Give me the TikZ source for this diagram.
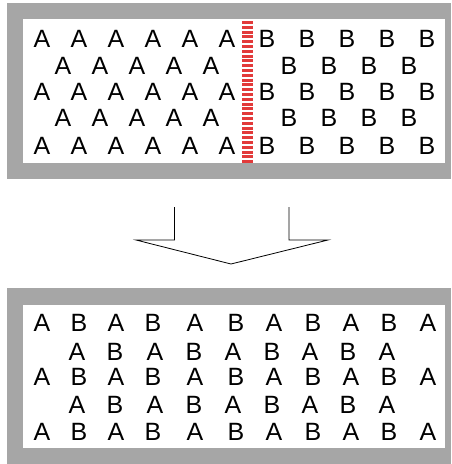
\documentclass[tikz,border=0pt]{standalone}
\usepackage{fontspec}
\setmainfont{Liberation Sans}
\definecolor{frame}{HTML}{A6A6A6}
\definecolor{stripe}{HTML}{E23A3A}
\begin{document}
\begin{tikzpicture}[x=1pt,y=-1pt,
  letter/.style={inner sep=0pt,font=\fontsize{25}{25}\selectfont},
  arrowline/.style={draw=black,line width=0.8pt,line join=miter}]
\useasboundingbox (0,0) rectangle (451,464);
% top box
\fill[frame] (7,3) rectangle (451,179);
\fill[white] (23,19) rectangle (445,163);
% stripe barrier
\draw[stripe,line width=11pt,dash pattern=on 3pt off 1.8pt] (247.5,21) -- (247.5,163);
% top letters
\foreach \y [count=\r] in {39,92,146}{
  \foreach \x [count=\c] in {42,79,116,153,190,227}
    \node[letter] (ta\r-\c) at (\x,\y) {A};
  \foreach \x [count=\c] in {267,307,347,387,427}
    \node[letter] (tb\r-\c) at (\x,\y) {B};
}
\foreach \y [count=\r] in {66,118}{
  \foreach \x [count=\c] in {63,100,137,174,211}
    \node[letter] (sa\r-\c) at (\x,\y) {A};
  \foreach \x [count=\c] in {289,329,369,409}
    \node[letter] (sb\r-\c) at (\x,\y) {B};
}
% arrow
\coordinate (p1) at (174.5,207);
\coordinate (p2) at (174.5,240);
\coordinate (p3) at (136,240);
\coordinate (tip) at (231,264);
\coordinate (p5) at (328,240);
\coordinate (p6) at (289,240);
\coordinate (p7) at (289,207);
\draw[arrowline] (p1) -- (p2) -- (p3) -- (tip) -- (p5) -- (p6) -- (p7);
% bottom box
\fill[frame] (7,288) rectangle (451,464);
\fill[white] (23,305) rectangle (445,448);
\foreach \y [count=\r] in {323,377,432}{
  \foreach \x/\t [count=\c] in {42/A,79/B,116/A,153/B,195/A,236/B,274/A,313/B,351/A,389/B,428/A}
    \node[letter] (ba\r-\c) at (\x,\y) {\t};
}
\foreach \y [count=\r] in {352,405}{
  \foreach \x/\t [count=\c] in {77/A,115/B,155/A,194/B,233/A,272/B,310/A,348/B,387/A}
    \node[letter] (bb\r-\c) at (\x,\y) {\t};
}
\end{tikzpicture}
\end{document}
